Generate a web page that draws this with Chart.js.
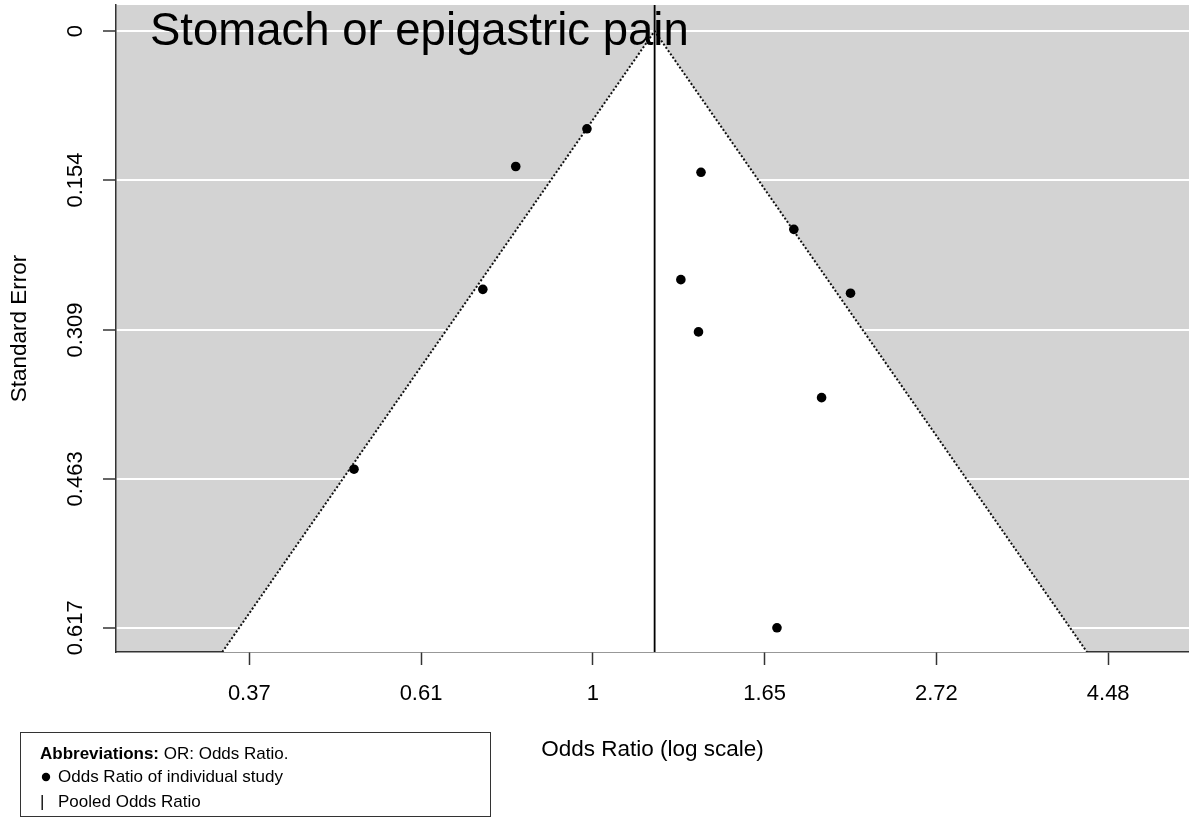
<!DOCTYPE html>
<html lang="en">
<head>
<meta charset="UTF-8">
<title>Funnel plot - Stomach or epigastric pain</title>
<script src="https://cdn.jsdelivr.net/npm/chart.js@4"></script>
<style>
  html, body { margin: 0; padding: 0; background: #fff; }
  canvas { display: block; }
</style>
</head>
<body>
<canvas id="funnel" width="1189" height="818"></canvas>
<script>
// individual studies: odds ratio and standard error
const studyOR = [0.499, 0.726, 0.799, 0.983, 1.370, 1.795, 1.292, 2.117, 1.360, 1.946, 1.709];
const studySE = [0.453, 0.267, 0.140, 0.101, 0.146, 0.205, 0.257, 0.271, 0.311, 0.379, 0.617];
const pooledOR = 1.197;

// axis ticks
const xTickValues = [0.3679, 0.6065, 1, 1.6487, 2.7183, 4.4817];
const xTickLabels = ['0.37', '0.61', '1', '1.65', '2.72', '4.48'];
const yTickValues = [0, 0.154, 0.309, 0.463, 0.617];
const yTickLabels = ['0', '0.154', '0.309', '0.463', '0.617'];

// axis ranges
const xMin = 0.2496, xMax = 5.67;
const seMin = -0.027, seMax = 0.642;

const FONT = '"Liberation Sans", Arial, sans-serif';

// 95% pseudo confidence limits of the funnel
const funnel = [
    { x: pooledOR * Math.exp(-1.96 * seMax), y: seMax },
    { x: pooledOR, y: 0 },
    { x: pooledOR * Math.exp(1.96 * seMax), y: seMax }
];
const studies = studyOR.map((or, i) => ({ x: or, y: studySE[i] }));
const pooledLine = [{ x: pooledOR, y: seMin }, { x: pooledOR, y: seMax }];

const decor = {
    id: 'decor',
    beforeDraw(chart) {
        const { ctx, chartArea: a } = chart;
        ctx.save();
        ctx.fillStyle = '#fff';
        ctx.fillRect(0, 0, chart.width, chart.height);
        ctx.fillStyle = '#d3d3d3';
        ctx.fillRect(a.left, a.top, a.right - a.left, a.bottom - a.top);
        ctx.restore();
    },
    afterDraw(chart) {
        const { ctx } = chart;
        const ys = chart.scales.y;
        ctx.save();
        // rotated y tick labels
        ctx.fillStyle = '#000';
        ctx.font = '22px ' + FONT;
        ctx.textAlign = 'center';
        ctx.textBaseline = 'middle';
        yTickValues.forEach((v, i) => {
            ctx.save();
            ctx.translate(76, ys.getPixelForValue(v));
            ctx.rotate(-Math.PI / 2);
            ctx.fillText(yTickLabels[i], 0, 0);
            ctx.restore();
        });

        // panel title
        ctx.textAlign = 'left';
        ctx.textBaseline = 'alphabetic';
        ctx.font = '45.5px ' + FONT;
        ctx.fillText('Stomach or epigastric pain', 150, 45);

        // legend box
        ctx.strokeStyle = '#333';
        ctx.lineWidth = 1;
        ctx.strokeRect(20.5, 732.5, 470, 84);
        ctx.font = 'bold 17px ' + FONT;
        ctx.fillText('Abbreviations:', 40, 759);
        const w = ctx.measureText('Abbreviations: ').width;
        ctx.font = '17px ' + FONT;
        ctx.fillText('OR: Odds Ratio.', 40 + w, 759);
        ctx.beginPath();
        ctx.arc(46, 777, 4.2, 0, Math.PI * 2);
        ctx.fill();
        ctx.fillText('Odds Ratio of individual study', 58, 782);
        ctx.fillText('|', 40, 807);
        ctx.fillText('Pooled Odds Ratio', 58, 807);
        ctx.restore();
    }
};

new Chart(document.getElementById('funnel'), {
    type: 'scatter',
    data: {
        datasets: [
            {
                label: 'Odds Ratio of individual study',
                data: studies,
                backgroundColor: '#000',
                borderWidth: 0,
                pointRadius: 4.8
            },
            {
                label: 'Pooled Odds Ratio',
                data: pooledLine,
                showLine: true,
                borderColor: '#000',
                borderWidth: 1.8,
                pointRadius: 0
            },
            {
                label: 'Funnel',
                data: funnel,
                showLine: true,
                borderColor: '#111',
                borderWidth: 2,
                borderDash: [2, 2],
                backgroundColor: '#fff',
                fill: { value: seMax },
                pointRadius: 0
            }
        ]
    },
    options: {
        responsive: false,
        animation: false,
        layout: { autoPadding: false, padding: { top: 5, left: 0, right: 0, bottom: 0 } },
        plugins: {
            legend: { display: false },
            tooltip: { enabled: false }
        },
        scales: {
            x: {
                type: 'logarithmic',
                min: xMin,
                max: xMax,
                afterBuildTicks: s => { s.ticks = xTickValues.map(v => ({ value: v })); },
                afterFit: s => { s.height = 166; },
                ticks: {
                    callback: (v, i) => xTickLabels[i],
                    font: { family: FONT, size: 22 },
                    color: '#000',
                    padding: 16,
                    maxRotation: 0,
                    autoSkip: false
                },
                grid: { drawOnChartArea: false, tickLength: 13, tickColor: '#333', tickWidth: 1.5 },
                border: { color: '#333', width: 1.5 },
                title: {
                    display: true,
                    text: 'Odds Ratio (log scale)',
                    font: { family: FONT, size: 22.5 },
                    color: '#000',
                    padding: { top: 0, bottom: 54.5 }
                }
            },
            y: {
                type: 'linear',
                reverse: true,
                min: seMin,
                max: seMax,
                afterBuildTicks: s => { s.ticks = yTickValues.map(v => ({ value: v })); },
                afterFit: s => { s.width = 116; },
                ticks: { display: false },
                grid: { color: '#fff', lineWidth: 2, tickLength: 13, tickColor: '#333', tickWidth: 1.5 },
                border: { color: '#333', width: 1.5 },
                title: {
                    display: true,
                    text: 'Standard Error',
                    font: { family: FONT, size: 22.5 },
                    color: '#000',
                    padding: { top: 6.5, bottom: 0 }
                }
            }
        }
    },
    plugins: [decor]
});
</script>
</body>
</html>
